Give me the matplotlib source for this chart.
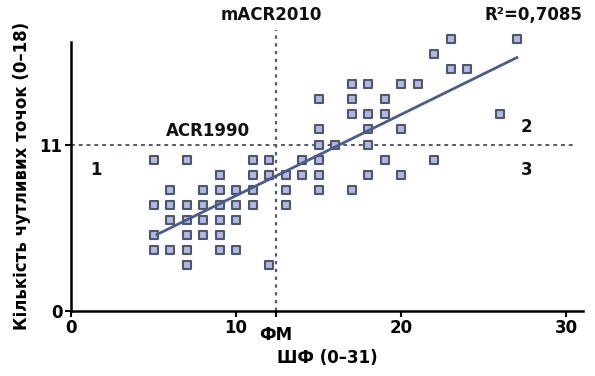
import matplotlib
matplotlib.use('Agg')
import matplotlib.pyplot as plt
import numpy as np

plt.rcParams['font.family'] = ['DejaVu Sans']
plt.rcParams['font.weight'] = 'bold'
plt.rcParams['axes.labelweight'] = 'bold'

# ШФ score (x) and number of tender points (y) for each patient
shf = [23, 27,
       22,
       23, 24,
       17, 18, 20, 21,
       15, 17, 19,
       17, 18, 19, 26,
       15, 18, 20,
       15, 16, 18,
       5, 7, 11, 12, 14, 15, 19, 22,
       9, 11, 12, 13, 14, 15, 18, 20,
       6, 8, 9, 10, 11, 13, 15, 17,
       5, 6, 7, 8, 9, 10, 11, 13,
       6, 7, 8, 9, 10,
       5, 7, 8, 9,
       5, 6, 7, 9, 10,
       7, 12]
points = [18, 18,
          17,
          16, 16,
          15, 15, 15, 15,
          14, 14, 14,
          13, 13, 13, 13,
          12, 12, 12,
          11, 11, 11,
          10, 10, 10, 10, 10, 10, 10, 10,
          9, 9, 9, 9, 9, 9, 9, 9,
          8, 8, 8, 8, 8, 8, 8, 8,
          7, 7, 7, 7, 7, 7, 7, 7,
          6, 6, 6, 6, 6,
          5, 5, 5, 5,
          4, 4, 4, 4, 4,
          3, 3]

acr1990_cut = 11      # tender points threshold
fm_cut = 12.4         # mACR2010 threshold on ШФ
r2_text = 'R²=0,7085'
x_ticks = [0, 10, 20, 30]
y_ticks = [0, 11]

x = np.array(shf, dtype=float)
y = np.array(points, dtype=float)
k, b = np.polyfit(x, y, 1)
xf = np.array([5.2, x.max()])

fig = plt.figure(figsize=(5.95, 3.76), dpi=100)
ax = fig.add_axes([0.1193, 0.1742, 0.8605, 0.7141])

# threshold lines
ax.axhline(acr1990_cut, xmin=0, xmax=30.4 / 31, color='#555a66', linestyle=(0, (2, 2)),
           linewidth=1.4, zorder=1)
ax.plot([fm_cut, fm_cut], [0, 18.6], color='#555a66', linestyle=(0, (1.5, 2)),
        linewidth=1.6, zorder=1, clip_on=False)

ax.scatter(x, y, marker='s', s=40, facecolor='#b0b8e4', edgecolor='#4f5868',
           linewidth=1.5, zorder=3, clip_on=False)
ax.plot(xf, k * xf + b, color='#4a5c8a', linewidth=2, zorder=4)

ax.set_xlim(0, 31)
ax.set_ylim(0, 17.8)
ax.spines['top'].set_visible(False)
ax.spines['right'].set_visible(False)
ax.spines['left'].set_linewidth(1.8)
ax.spines['bottom'].set_linewidth(1.8)

ax.set_xticks(x_ticks)
ax.set_yticks(y_ticks)
ax.set_xticks([fm_cut], ['ФМ'], minor=True)
ax.tick_params(which='both', direction='out', length=4, width=1.5, labelsize=12, pad=2)
ax.tick_params(axis='x', which='minor', pad=7)

ax.set_xlabel('ШФ (0–31)', fontsize=12, labelpad=4)
ax.set_ylabel('Кількість чутливих точок (0–18)', fontsize=12, labelpad=6)

kw = dict(fontsize=12, ha='center', va='center', color='#111111')
ax.text(8.3, 11.9, 'ACR1990', **kw)
ax.text(1.5, 9.3, '1', **kw)
ax.text(27.6, 12.15, '2', **kw)
ax.text(27.6, 9.3, '3', **kw)
ax.text(fm_cut - 0.3, 19.6, 'mACR2010', clip_on=False, **kw)
ax.text(28.0, 19.6, r2_text, clip_on=False, **kw)

fig.savefig('out.png', dpi=100)
